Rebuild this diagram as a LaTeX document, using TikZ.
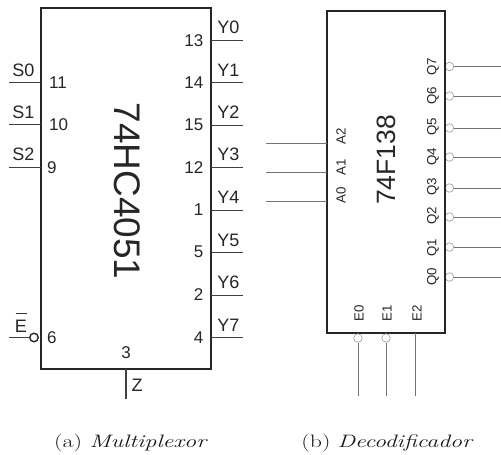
\documentclass[tikz,border=0pt]{standalone}
\usepackage{graphicx}
\usepackage{fontspec}
\setsansfont{Liberation Sans}
\tikzset{
  boxa/.style={draw=black!85,line width=1.9pt,inner sep=0pt,minimum width=170pt,minimum height=361pt},
  boxb/.style={draw=black!85,line width=1.4pt,inner sep=0pt,minimum width=118pt,minimum height=322pt},
  pin/.style={draw=black!75,line width=1pt},
  thinpin/.style={draw=black!55,line width=0.8pt},
  lab/.style={font=\sffamily\fontsize{18}{18}\selectfont,text=black!85,inner sep=0pt},
  num/.style={font=\sffamily\fontsize{17}{17}\selectfont,text=black!85,inner sep=0pt},
  slab/.style={font=\sffamily\fontsize{13.3}{14}\selectfont,text=black!85,inner sep=0pt,rotate=90},
  bub/.style={circle,inner sep=0pt,minimum size=8.5pt,fill=white,draw=black!40,line width=0.6pt},
  captext/.style={font=\fontsize{18}{20}\selectfont,text=black!90,inner sep=0pt,anchor=base}
}
\begin{document}
\begin{tikzpicture}[x=1pt,y=-1pt]
\useasboundingbox (0,0) rectangle (501,455);
% decoder outputs (bubbles sit behind the box edge)
\foreach \n/\y/\ly in {7/66.5/66.5,6/96/96,5/128/127,4/157/157,3/188/187,2/217/216,1/247/248,0/277/277}{
  \node[bub] (qb\n) at (449.5,\y) {};
  \coordinate (qe\n) at (501,\y);
  \draw[thinpin] (qb\n) -- (qe\n);
}
\node[boxa] (mux) at (126,188.5) {};
\node[boxb] (dec) at (386,172) {};
\foreach \n/\y/\ly in {7/66.5/66.5,6/96/96,5/128/127,4/157/157,3/188/187,2/217/216,1/247/248,0/277/277}{
  \node[slab] (ql\n) at (433,\ly) {Q\n};
}
\node[font=\sffamily\fontsize{37}{38}\selectfont,text=black!85,inner sep=0pt,rotate=-90] (muxname) at (127.5,191) {74HC4051};
\node[font=\sffamily\fontsize{26.5}{28}\selectfont,text=black!85,inner sep=0pt,rotate=90] (decname) at (386.5,160) {74F138};
% multiplexer outputs
\foreach \n/\y/\p/\py in {0/40/13/40.5,1/82.5/14/82.5,2/125/15/125,3/167/12/168,4/210/1/210,5/252.5/5/252,6/295/2/295,7/337.5/4/338}{
  \coordinate (ys\n) at (211,\y);
  \coordinate (ye\n) at (243,\y);
  \draw[pin] (ys\n) -- (ye\n);
  \node[lab,anchor=base] (yl\n) at (228.5,\y-6.5) {Y\n};
  \node[num,anchor=east] (yp\n) at (203.5,\py) {\p};
}
% multiplexer selects
\foreach \n/\y/\p in {0/82.5/11,1/124.5/10,2/167/9}{
  \coordinate (ss\n) at (9,\y);
  \coordinate (se\n) at (41,\y);
  \draw[pin] (ss\n) -- (se\n);
  \node[lab,anchor=base] (sl\n) at (23.5,\y-6.5) {S\n};
  \node[num,anchor=west] (sp\n) at (\ifnum\n=2 47\else 49\fi,\y+.5) {\p};
}
% enable
\coordinate (es) at (9,337.5);
\node[circle,draw=black!85,line width=1.4pt,inner sep=0pt,minimum size=8.5pt] (ebub) at (34,337.5) {};
\draw[pin] (es) -- (ebub);
\node[lab,anchor=base] (el) at (21,332) {E};
\draw[black!80,line width=0.9pt] (15.5,313.5) -- (26.5,313.5);
\node[num,anchor=west] (ep) at (47,338) {6};
% output Z
\coordinate (zs) at (126,369);
\coordinate (ze) at (126,399);
\draw[black!75,line width=1.1pt] (zs) -- (ze);
\node[lab,anchor=base] (zl) at (137,391) {Z};
\node[num] (zp) at (126,352.5) {3};
% decoder address
\foreach \n/\y/\ly in {2/143/136,1/172/167,0/201/195}{
  \coordinate (as\n) at (266,\y);
  \coordinate (ae\n) at (327,\y);
  \draw[thinpin] (as\n) -- (ae\n);
  \node[slab] (al\n) at (341,\ly) {A\n};
}
% decoder enables
\foreach \n/\x/\lx/\b in {0/358/359/1,1/386/387/1,2/415/417/0}{
  \coordinate (en\n) at (\x,396);
  \ifnum\b=1
    \node[bub] (eb\n) at (\x,338) {};
    \draw[thinpin] (eb\n) -- (en\n);
  \else
    \coordinate (eb\n) at (\x,333);
    \draw[thinpin] (eb\n) -- (en\n);
  \fi
  \node[slab] (en\n l) at (\lx,313) {E\n};
}
\node[captext] (capa) at (131,447) {\scalebox{1.34}[1]{(a) \textit{Multiplexor}}};
\node[captext] (capb) at (387.5,447) {\scalebox{1.32}[1]{(b) \textit{Decodificador}}};
\end{tikzpicture}
\end{document}
